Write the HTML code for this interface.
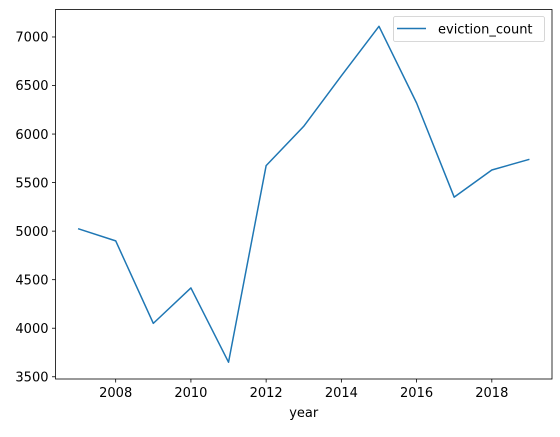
<!DOCTYPE html>
<html><head><meta charset="utf-8"><style>
body{margin:0;background:#fff}
svg text{font-family:"DejaVu Sans","Liberation Sans",sans-serif;font-size:13px;fill:#000}
</style></head><body>
<svg id="chart" width="560" height="432">
<rect x="0" y="0" width="560" height="432" fill="#fff"/>
<g id="g"></g>
</svg>
<script>
const years=[2007,2008,2009,2010,2011,2012,2013,2014,2015,2016,2017,2018,2019];
const evictionCount=[5025,4900,4050,4415,3650,5675,6080,6600,7110,6320,5350,5630,5740];
const xTicks=[2008,2010,2012,2014,2016,2018];
const yTicks=[3500,4000,4500,5000,5500,6000,6500,7000];
const L=55.5,R=552,T=9.5,B=379;
const xmin=2007-0.6,xmax=2019+0.6;
const dmin=Math.min(...evictionCount),dmax=Math.max(...evictionCount),pad=(dmax-dmin)*0.05;
const ymin=dmin-pad,ymax=dmax+pad;
const xs=v=>L+(v-xmin)/(xmax-xmin)*(R-L);
const ys=v=>B-(v-ymin)/(ymax-ymin)*(B-T);
const NS="http://www.w3.org/2000/svg",g=document.getElementById('g');
function mk(t,a,txt){const e=document.createElementNS(NS,t);for(const k in a)e.setAttribute(k,a[k]);if(txt!==undefined)e.textContent=txt;g.appendChild(e);return e;}
xTicks.forEach(v=>{const x=xs(v);
const t=mk('line',{x1:x,x2:x,y1:B,y2:B+3.5,stroke:'#000','stroke-width':0.8});


const l=mk('text',{x:x,y:B+18,'text-anchor':'middle'},v);

});
yTicks.forEach(v=>{const y=ys(v);
const t=mk('line',{x1:L-3.5,x2:L,y1:y,y2:y,stroke:'#000','stroke-width':0.8});


const l=mk('text',{x:L-7,y:y+4.7,'text-anchor':'end'},v);

});
const p=mk('polyline',{points:years.map((y,i)=>xs(y)+','+ys(evictionCount[i])).join(' '),fill:'none',stroke:'#1f77b4','stroke-width':1.5,'stroke-linejoin':'round'});


const ax=mk('rect',{x:L,y:T,width:R-L,height:B-T,fill:'none',stroke:'#000','stroke-width':0.8});


const xl=mk('text',{x:(L+R)/2,y:417,'text-anchor':'middle'},'year');


const lb=mk('rect',{x:393.5,y:16.5,width:151,height:25,rx:2,fill:'#fff',stroke:'#ccc','stroke-width':0.8});


const ll=mk('line',{x1:397,x2:426,y1:28.5,y2:28.5,stroke:'#1f77b4','stroke-width':1.5});


const lt=mk('text',{x:438,y:33.5},'eviction_count');


</script>
</body></html>
